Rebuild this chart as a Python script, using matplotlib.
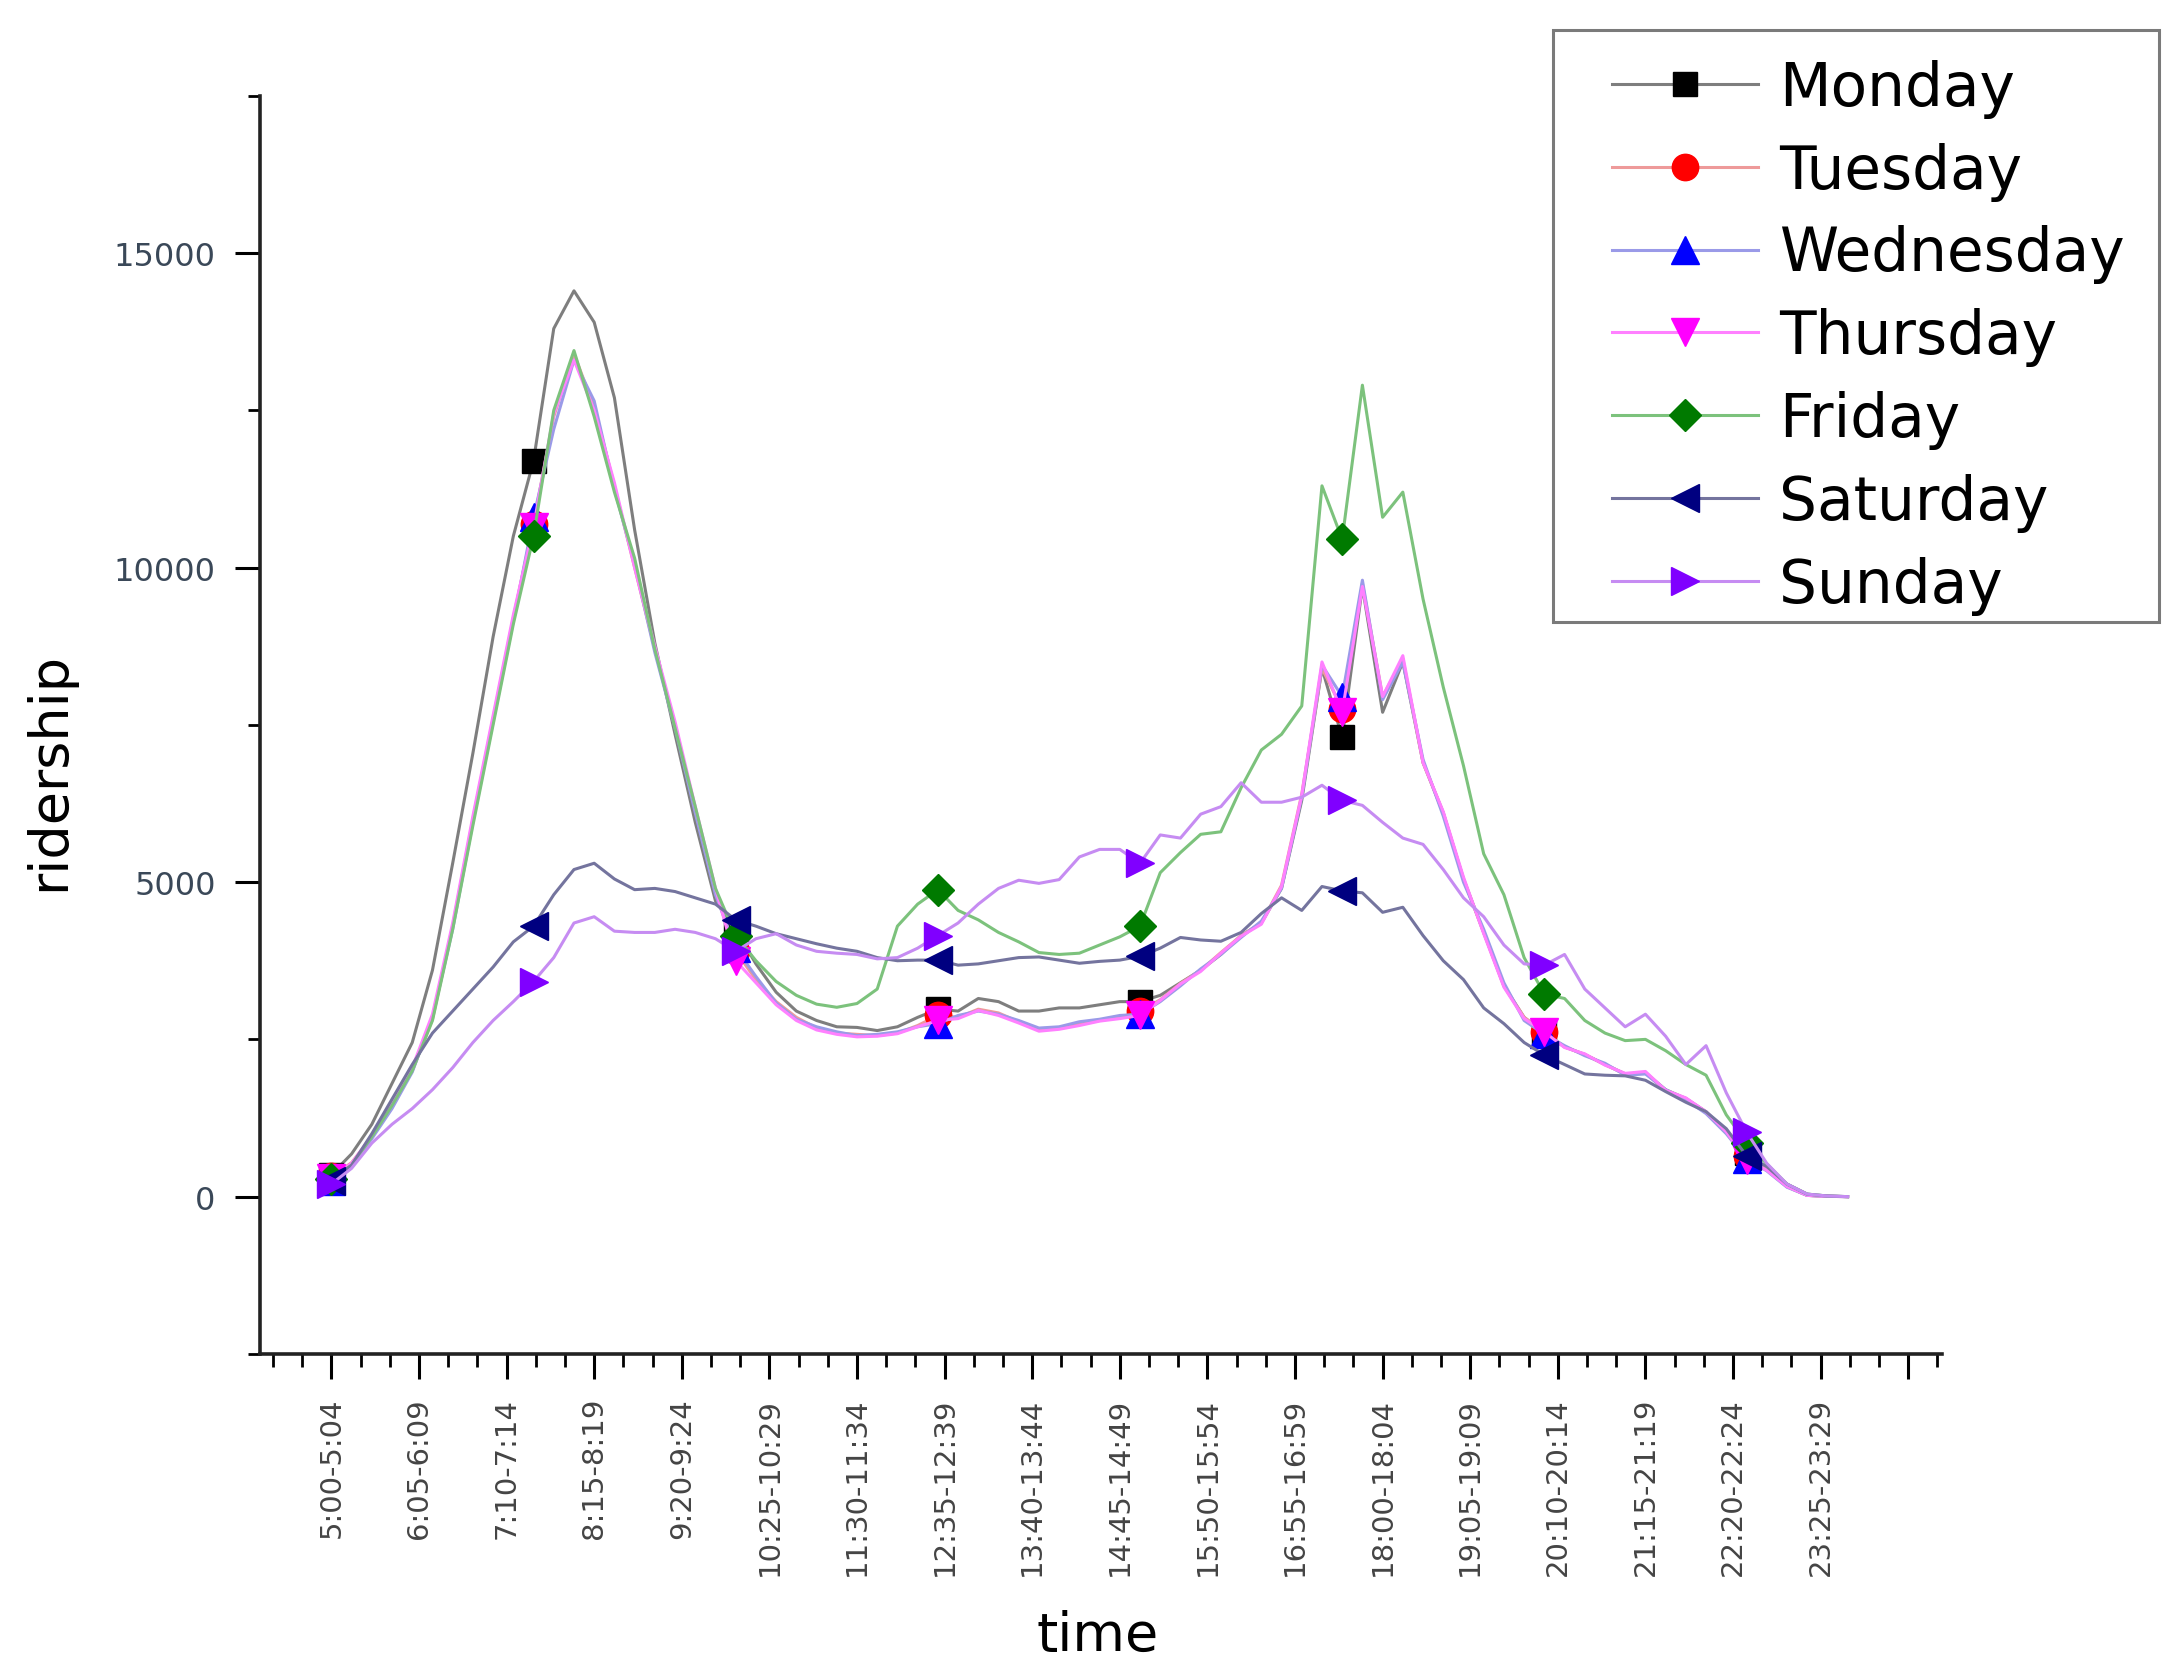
import numpy as np
import matplotlib
matplotlib.use("Agg")
import matplotlib.pyplot as plt
from matplotlib.ticker import MultipleLocator, FixedLocator
from matplotlib.patches import Rectangle

plt.rcParams['font.family'] = ['DejaVu Sans']

# time bins (5-minute slots from 5:00), sampled every 15 minutes
bins = np.arange(0, 228, 3)

tick_pos = [0, 13, 26, 39, 52, 65, 78, 91, 104, 117, 130, 143, 156, 169, 182, 195, 208, 221, 234]
tick_labels = ["5:00-5:04", "6:05-6:09", "7:10-7:14", "8:15-8:19", "9:20-9:24",
               "10:25-10:29", "11:30-11:34", "12:35-12:39", "13:40-13:44", "14:45-14:49",
               "15:50-15:54", "16:55-16:59", "18:00-18:04", "19:05-19:09", "20:10-20:14",
               "21:15-21:19", "22:20-22:24", "23:25-23:29", ""]

monday = [350, 680, 1150, 1800, 2450, 3600, 5300, 7050, 8900, 10500,
          11700, 13800, 14400, 13900, 12700, 10600, 8800, 7350, 5950, 4700,
          4250, 3700, 3250, 2950, 2800, 2700, 2690, 2640, 2700, 2850,
          2980, 2950, 3150, 3100, 2950, 2950, 3000, 3000, 3050, 3100,
          3100, 3200, 3400, 3600, 3850, 4150, 4350, 4900, 6300, 8400,
          7300, 9700, 7700, 8500, 6900, 6100, 5050, 4200, 3350, 2850,
          2600, 2380, 2260, 2100, 1950, 1970, 1700, 1560, 1350, 1020,
          700, 430, 160, 20, 5, 0]
tuesday = [320, 540, 950, 1450, 2000, 2820, 4300, 6000, 7600, 9200,
           10700, 12400, 13400, 12550, 11300, 10000, 8700, 7500, 6150, 4850,
           3900, 3450, 3100, 2850, 2680, 2600, 2580, 2560, 2600, 2720,
           2880, 2850, 2980, 2920, 2780, 2650, 2680, 2740, 2800, 2850,
           2950, 3130, 3390, 3600, 3880, 4150, 4350, 4950, 6400, 8400,
           7750, 9750, 7950, 8550, 6900, 6100, 5050, 4200, 3350, 2850,
           2620, 2380, 2260, 2100, 1950, 1970, 1680, 1560, 1340, 1020,
           650, 430, 160, 20, 5, 0]
wednesday = [250, 500, 920, 1400, 1980, 2850, 4250, 5950, 7550, 9150,
             10800, 12200, 13300, 12650, 11250, 10050, 8650, 7450, 6100, 4800,
             3950, 3500, 3080, 2820, 2700, 2620, 2560, 2580, 2620, 2700,
             2750, 2880, 2950, 2900, 2800, 2680, 2700, 2780, 2820, 2880,
             2900, 3100, 3350, 3620, 3850, 4120, 4380, 4900, 6350, 8450,
             7950, 9800, 7900, 8500, 6950, 6050, 5000, 4250, 3400, 2800,
             2580, 2400, 2240, 2120, 1930, 1950, 1700, 1540, 1320, 1000,
             600, 410, 150, 20, 5, 0]
thursday = [300, 530, 970, 1480, 2050, 2900, 4350, 6050, 7650, 9250,
            10650, 12450, 13300, 12500, 11350, 10000, 8750, 7550, 6200, 4900,
            3750, 3400, 3050, 2800, 2650, 2580, 2540, 2550, 2590, 2700,
            2800, 2830, 2960, 2880, 2760, 2630, 2660, 2720, 2790, 2830,
            2880, 3120, 3380, 3580, 3870, 4140, 4330, 4930, 6380, 8500,
            7700, 9700, 7950, 8600, 6900, 6120, 5080, 4180, 3330, 2830,
            2620, 2370, 2270, 2090, 1960, 1990, 1690, 1570, 1350, 1030,
            580, 420, 160, 20, 5, 0]
friday = [280, 500, 950, 1450, 2000, 2800, 4250, 5900, 7500, 9100,
          10500, 12500, 13450, 12400, 11200, 10150, 8700, 7450, 6200, 4900,
          4150, 3750, 3420, 3200, 3060, 3010, 3070, 3300, 4300, 4650,
          4880, 4550, 4400, 4200, 4050, 3880, 3850, 3870, 4000, 4130,
          4300, 5150, 5470, 5760, 5800, 6500, 7100, 7350, 7800, 11300,
          10450, 12900, 10800, 11200, 9500, 8100, 6850, 5450, 4800, 3800,
          3220, 3150, 2800, 2600, 2480, 2500, 2320, 2100, 1930, 1300,
          860, 520, 200, 40, 10, 0]
saturday = [250, 500, 1000, 1550, 2100, 2600, 2950, 3300, 3650, 4050,
            4300, 4800, 5200, 5300, 5050, 4880, 4900, 4850, 4750, 4650,
            4400, 4300, 4180, 4100, 4020, 3950, 3900, 3800, 3750, 3760,
            3760, 3680, 3700, 3750, 3800, 3810, 3760, 3710, 3740, 3760,
            3820, 3950, 4120, 4080, 4060, 4200, 4500, 4750, 4550, 4930,
            4860, 4830, 4520, 4600, 4150, 3750, 3450, 3000, 2750, 2450,
            2250, 2100, 1950, 1930, 1920, 1850, 1670, 1500, 1350, 1080,
            650, 480, 200, 40, 10, 0]
sunday = [200, 450, 850, 1150, 1400, 1700, 2050, 2450, 2800, 3100,
          3420, 3800, 4350, 4450, 4220, 4200, 4200, 4250, 4200, 4100,
          3900, 4100, 4180, 4000, 3900, 3870, 3850, 3780, 3800, 3950,
          4150, 4350, 4650, 4900, 5030, 4980, 5040, 5400, 5520, 5520,
          5300, 5750, 5700, 6080, 6200, 6580, 6270, 6270, 6350, 6540,
          6300, 6220, 5950, 5700, 5600, 5200, 4750, 4450, 4000, 3700,
          3680, 3850, 3300, 3000, 2700, 2900, 2550, 2100, 2400, 1650,
          1030, 530, 200, 40, 10, 0]

days = ["Monday", "Tuesday", "Wednesday", "Thursday", "Friday", "Saturday", "Sunday"]
series = [monday, tuesday, wednesday, thursday, friday, saturday, sunday]
line_colors = ["#7e7e7e", "#ee9a9a", "#9a9ae8", "#ff80ff", "#7cc27c", "#74749e", "#c68cf2"]
marker_colors = ["#000000", "#ff0000", "#0000ff", "#ff00ff", "#007a00", "#000080", "#8000ff"]
markers = ["s", "o", "^", "v", "D", "<", ">"]
msizes = [17, 19, 20, 20, 16, 20, 20]

fig = plt.figure(figsize=(21.79, 16.81), dpi=100)
ax = fig.add_axes([0.1193, 0.194, 0.7719, 0.7484])

for name, vals, lc, mc, mk, ms in zip(days, series, line_colors, marker_colors, markers, msizes):
    ax.plot(bins, vals, color=lc, lw=2.2, marker=mk, markersize=ms,
            markerfacecolor=mc, markeredgecolor=mc, markevery=10, label=name)

ax.set_xlim(-10.6, 239)
ax.set_ylim(-2500, 17500)

ax.xaxis.set_major_locator(FixedLocator(tick_pos))
ax.set_xticklabels(tick_labels, rotation=90, fontsize=21, color="#444444")
ax.xaxis.set_minor_locator(MultipleLocator(13 / 3))
ax.yaxis.set_major_locator(MultipleLocator(5000))
ax.yaxis.set_minor_locator(MultipleLocator(2500))
for lab in ax.get_yticklabels():
    lab.set_fontsize(23)
    lab.set_color("#3a4858")

ax.tick_params(axis='both', which='major', direction='out', length=18, width=2.2)
ax.tick_params(axis='both', which='minor', direction='out', length=9, width=2.0)
ax.tick_params(axis='x', which='major', pad=13)
ax.tick_params(axis='y', which='major', pad=14)

for side in ['top', 'right']:
    ax.spines[side].set_visible(False)
for side in ['left', 'bottom']:
    ax.spines[side].set_linewidth(2.6)
    ax.spines[side].set_color("#222222")

ax.set_xlabel("time", fontsize=39)
ax.set_ylabel("ridership", fontsize=39)
ax.xaxis.set_label_coords(0.498, -0.203)
ax.yaxis.set_label_coords(-0.11, 0.464)

# legend without its own frame, box drawn around it
leg = ax.legend(loc='upper left', bbox_to_anchor=(0.7399, 0.9645), bbox_transform=fig.transFigure,
                borderaxespad=0, borderpad=0, fontsize=43, frameon=False,
                labelspacing=0.40, handlelength=2.44, handletextpad=0.35)
fig.patches.append(Rectangle((0.7125, 0.6296), 0.2781, 0.3522, transform=fig.transFigure,
                             fill=False, edgecolor="#7a7a7a", linewidth=2.2))

fig.savefig("out.png", dpi=100)
